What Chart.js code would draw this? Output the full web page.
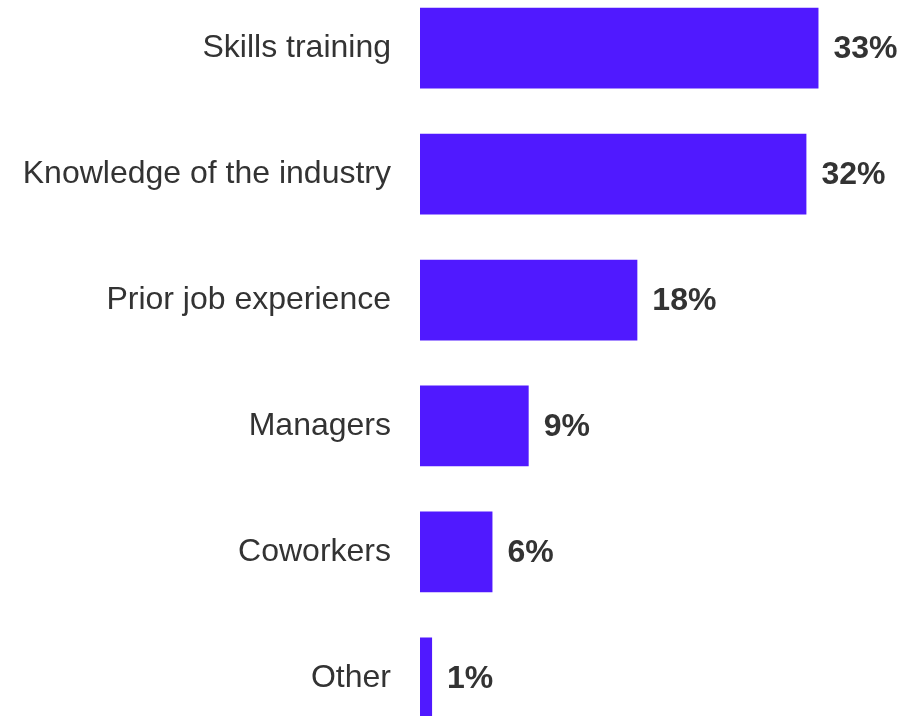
<!DOCTYPE html>
<html>
<head>
<meta charset="utf-8">
<script src="https://cdn.jsdelivr.net/npm/chart.js@4"></script>
<style>
    html, body { margin: 0; padding: 0; background: #fff; overflow: hidden; }
    #wrap { position: absolute; left: 0; top: -63px; width: 907px; height: 852px; }
</style>
</head>
<body>
<div id="wrap"><canvas id="myChart"></canvas></div>
<script>
const categories = [
    "Skills training",
    "Knowledge of the industry",
    "Prior job experience",
    "Managers",
    "Coworkers",
    "Other"
];
const shares = [33, 32, 18, 9, 6, 1];

const barColor = "#5019ff";
const textColor = "#333333";
const fontFamily = "'Liberation Sans', Arial, sans-serif";

// writes "NN%" just past the end of every bar
const valueLabels = {
    id: "valueLabels",
    afterDatasetsDraw(chart) {
        const ctx = chart.ctx;
        const meta = chart.getDatasetMeta(0);
        ctx.save();
        ctx.fillStyle = textColor;
        ctx.font = "bold 32px " + fontFamily;
        ctx.textAlign = "left";
        ctx.textBaseline = "middle";
        meta.data.forEach((bar, i) => {
            ctx.fillText(shares[i] + "%", bar.x + 15, bar.y + 1);
        });
        ctx.restore();
    }
};

const ctx = document.getElementById("myChart").getContext("2d");

new Chart(ctx, {
    type: "bar",
    data: {
        labels: categories,
        datasets: [{
            data: shares,
            backgroundColor: barColor,
            borderWidth: 0,
            categoryPercentage: 1,
            barPercentage: 0.641
        }]
    },
    options: {
        indexAxis: "y",
        responsive: true,
        maintainAspectRatio: false,
        animation: false,
        layout: { padding: { left: 0, right: 4, top: 0, bottom: 0 } },
        plugins: {
            legend: { display: false },
            tooltip: { enabled: false }
        },
        scales: {
            x: {
                display: false,
                min: 0,
                max: 40
            },
            y: {
                grid: { display: false, drawTicks: false },
                border: { display: false },
                afterFit(scale) { scale.width = 420; },
                ticks: {
                    padding: 29,
                    color: textColor,
                    font: { size: 32, family: fontFamily }
                }
            }
        }
    },
    plugins: [valueLabels]
});
</script>
</body>
</html>
